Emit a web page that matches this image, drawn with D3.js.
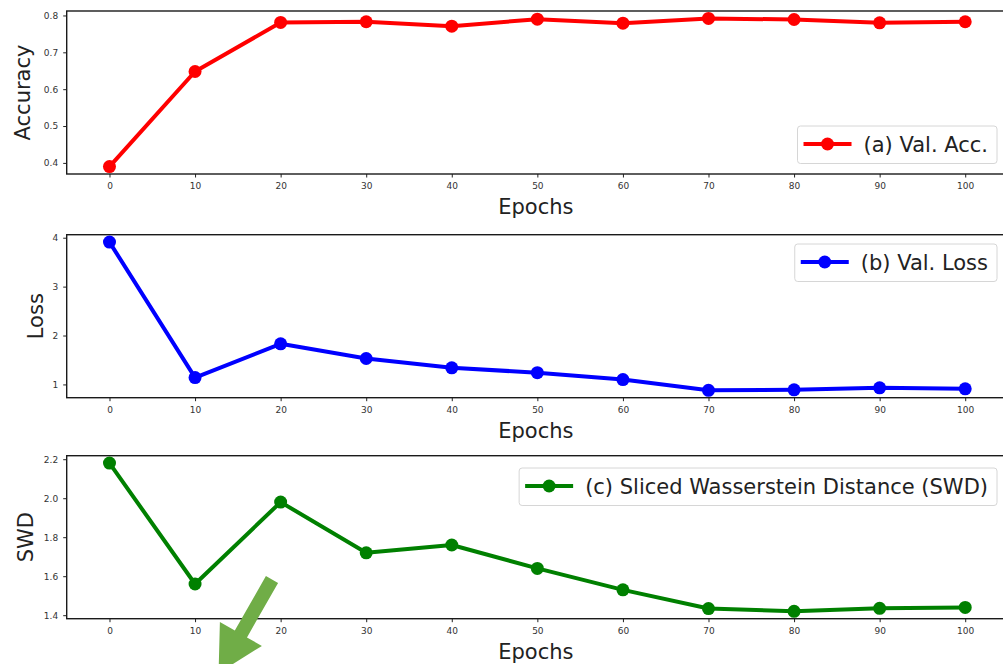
<!DOCTYPE html>
<html>
<head>
<meta charset="utf-8">
<script src="https://cdn.jsdelivr.net/npm/d3@7"></script>
<style>
  body { margin: 0; background: #fff; }
  text { font-family: "DejaVu Sans", sans-serif; }
</style>
</head>
<body>
<svg width="1003" height="664"></svg>
<script>
// values
const epochs = [0, 10, 20, 30, 40, 50, 60, 70, 80, 90, 100];
const accuracy = [0.39, 0.648, 0.781, 0.783, 0.771, 0.79, 0.779, 0.792, 0.789, 0.78, 0.783];
const loss = [3.91, 1.14, 1.83, 1.53, 1.34, 1.24, 1.10, 0.88, 0.89, 0.93, 0.91];
const swd = [2.18, 1.56, 1.98, 1.72, 1.76, 1.64, 1.53, 1.434, 1.42, 1.435, 1.44];
const accTicks = [0.4, 0.5, 0.6, 0.7, 0.8];
const lossTicks = [1, 2, 3, 4];
const swdTicks = [1.4, 1.6, 1.8, 2.0, 2.2];

const svg = d3.select("svg");
const left = 66.7, right = 1008, panelH = 163;
const bigFont = "21px";

const x = d3.scaleLinear().domain([-5, 105]).range([left, right]);

const panels = [
    { values: accuracy, ticks: accTicks, fmt: d3.format(".1f"), color: "#ff0000",
      ylabel: "Accuracy", label: "(a) Val. Acc.", top: 11, ylabX: 30, legendY: 126 },
    { values: loss, ticks: lossTicks, fmt: d3.format("d"), color: "#0000ff",
      ylabel: "Loss", label: "(b) Val. Loss", top: 234.7, ylabX: 43, legendY: 244 },
    { values: swd, ticks: swdTicks, fmt: d3.format(".1f"), color: "#008000",
      ylabel: "SWD", label: "(c) Sliced Wasserstein Distance (SWD)", top: 455.7, ylabX: 33, legendY: 468 }
];

panels.forEach(p => {
    // matplotlib-style 5% margins
    const [lo, hi] = d3.extent(p.values);
    const pad = (hi - lo) * 0.05;
    const bottom = p.top + panelH;
    const y = d3.scaleLinear().domain([lo - pad, hi + pad]).range([bottom, p.top]);

    const g = svg.append("g");

    const xAxis = g.append("g")
        .attr("transform", `translate(0,${bottom})`)
        .call(d3.axisBottom(x).tickValues(epochs).tickSize(3.5).tickPadding(5));
    const yAxis = g.append("g")
        .attr("transform", `translate(${left},0)`)
        .call(d3.axisLeft(y).tickValues(p.ticks).tickFormat(p.fmt).tickSize(3.5).tickPadding(5));
    [xAxis, yAxis].forEach(a => {
        a.select(".domain").remove();
        a.selectAll("line").attr("stroke", "#222").attr("stroke-width", 1);
        a.selectAll("text").attr("fill", "#333").style("font-size", "9px");
    });

    g.append("rect")
        .attr("x", left).attr("y", p.top)
        .attr("width", right - left).attr("height", panelH)
        .attr("fill", "none").attr("stroke", "#1a1a1a").attr("stroke-width", 1.4);

    const line = d3.line().x((d, i) => x(epochs[i])).y(d => y(d));
    g.append("path")
        .datum(p.values)
        .attr("d", line)
        .attr("fill", "none")
        .attr("stroke", p.color)
        .attr("stroke-width", 4)
        .attr("stroke-linejoin", "round");
    g.selectAll(".dot")
        .data(p.values)
        .enter().append("circle")
        .attr("class", "dot")
        .attr("cx", (d, i) => x(epochs[i]))
        .attr("cy", d => y(d))
        .attr("r", 6.5)
        .attr("fill", p.color);

    g.append("text")
        .attr("x", (left + 1003) / 2 + 1)
        .attr("y", bottom + 40)
        .attr("text-anchor", "middle")
        .attr("fill", "#222")
        .style("font-size", bigFont)
        .text("Epochs");

    g.append("text")
        .attr("transform", `translate(${p.ylabX},${(p.top + bottom) / 2}) rotate(-90)`)
        .attr("text-anchor", "middle")
        .attr("fill", "#222")
        .style("font-size", bigFont)
        .text(p.ylabel);

    // legend, anchored to the right edge
    const leg = g.append("g");
    const box = leg.append("rect");
    const txt = leg.append("text")
        .attr("fill", "#222")
        .style("font-size", bigFont)
        .attr("y", p.legendY + 25.5)
        .text(p.label);
    const tw = txt.node().getComputedTextLength();
    const boxW = 6 + 48 + 12 + tw + 9;
    const bx = 997 - boxW, cy = p.legendY + 18;
    box.attr("x", bx).attr("y", p.legendY)
        .attr("width", boxW).attr("height", 37.5)
        .attr("rx", 3)
        .attr("fill", "#fff").attr("fill-opacity", 0.85)
        .attr("stroke", "#d6d6d6").attr("stroke-width", 1);
    leg.append("line")
        .attr("x1", bx + 6).attr("x2", bx + 54)
        .attr("y1", cy).attr("y2", cy)
        .attr("stroke", p.color).attr("stroke-width", 4);
    leg.append("circle")
        .attr("cx", bx + 30).attr("cy", cy).attr("r", 6.5).attr("fill", p.color);
    txt.attr("x", bx + 66);
});

// green annotation arrow pointing down-left
const tail = [272, 579.5], dir = [-0.496, 0.868], nrm = [0.868, 0.496];
const shaftLen = 62.7, headLen = 45, shaftW = 14, headW = 48.4;
const pt = (t, s) => [tail[0] + dir[0] * t + nrm[0] * s, tail[1] + dir[1] * t + nrm[1] * s];
const arrowPts = [
    pt(0, -shaftW / 2), pt(shaftLen, -shaftW / 2), pt(shaftLen, -headW / 2),
    pt(shaftLen + headLen, 0),
    pt(shaftLen, headW / 2), pt(shaftLen, shaftW / 2), pt(0, shaftW / 2)
];
svg.append("path")
    .attr("d", d3.line()(arrowPts) + "Z")
    .attr("fill", "#70ad47");
</script>
</body>
</html>
